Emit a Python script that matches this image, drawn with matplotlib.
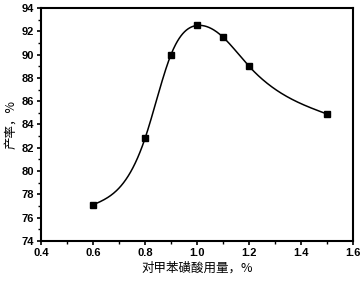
import numpy as np
import matplotlib
matplotlib.use('Agg')
import matplotlib.pyplot as plt
from matplotlib.ticker import MultipleLocator

plt.rcParams['font.family'] = ['Liberation Sans', 'Noto Sans CJK SC', 'DejaVu Sans']

# ========== 数据 ==========
dosage = [0.6, 0.8, 0.9, 1.0, 1.1, 1.2, 1.5]
yield_pct = [77.1, 82.8, 90.0, 92.5, 91.5, 89.0, 84.9]


def natural_spline(x, y, xs):
    # 自然三次样条
    x = np.asarray(x, float)
    y = np.asarray(y, float)
    n = len(x)
    h = np.diff(x)
    A = np.zeros((n, n))
    b = np.zeros(n)
    A[0, 0] = 1
    A[-1, -1] = 1
    for i in range(1, n - 1):
        A[i, i - 1] = h[i - 1]
        A[i, i] = 2 * (h[i - 1] + h[i])
        A[i, i + 1] = h[i]
        b[i] = 6 * ((y[i + 1] - y[i]) / h[i] - (y[i] - y[i - 1]) / h[i - 1])
    M = np.linalg.solve(A, b)
    idx = np.clip(np.searchsorted(x, xs) - 1, 0, n - 2)
    x0, x1 = x[idx], x[idx + 1]
    hi = x1 - x0
    return (M[idx] * (x1 - xs) ** 3 / (6 * hi) + M[idx + 1] * (xs - x0) ** 3 / (6 * hi)
            + (y[idx] / hi - M[idx] * hi / 6) * (x1 - xs)
            + (y[idx + 1] / hi - M[idx + 1] * hi / 6) * (xs - x0))


xs = np.linspace(dosage[0], dosage[-1], 400)
ys = natural_spline(dosage, yield_pct, xs)

fig = plt.figure(figsize=(3.63, 2.81), dpi=100)
ax = fig.add_axes([41 / 363, 1 - 241 / 281, 312 / 363, 233 / 281])

ax.plot(xs, ys, color='black', linewidth=1.1)
ax.plot(dosage, yield_pct, 's', color='black', markersize=4.5)

ax.set_xlim(0.4, 1.6)
ax.set_ylim(74, 94)
ax.xaxis.set_major_locator(MultipleLocator(0.2))
ax.xaxis.set_minor_locator(MultipleLocator(0.1))
ax.yaxis.set_major_locator(MultipleLocator(2))
ax.yaxis.set_minor_locator(MultipleLocator(1))
ax.tick_params(which='major', direction='out', length=3, width=1.2, labelsize=8, pad=2)
ax.tick_params(which='minor', direction='out', length=2, width=1)
for lab in ax.get_xticklabels() + ax.get_yticklabels():
    lab.set_fontweight('bold')
for sp in ax.spines.values():
    sp.set_linewidth(1.5)

ax.set_xlabel('对甲苯磺酸用量，%', fontsize=9, family=['Noto Sans CJK SC', 'DejaVu Sans'], labelpad=3)
ax.set_ylabel('产率，%', fontsize=9, family=['Noto Sans CJK SC', 'DejaVu Sans'], labelpad=3)

fig.savefig('out.png', dpi=100)
